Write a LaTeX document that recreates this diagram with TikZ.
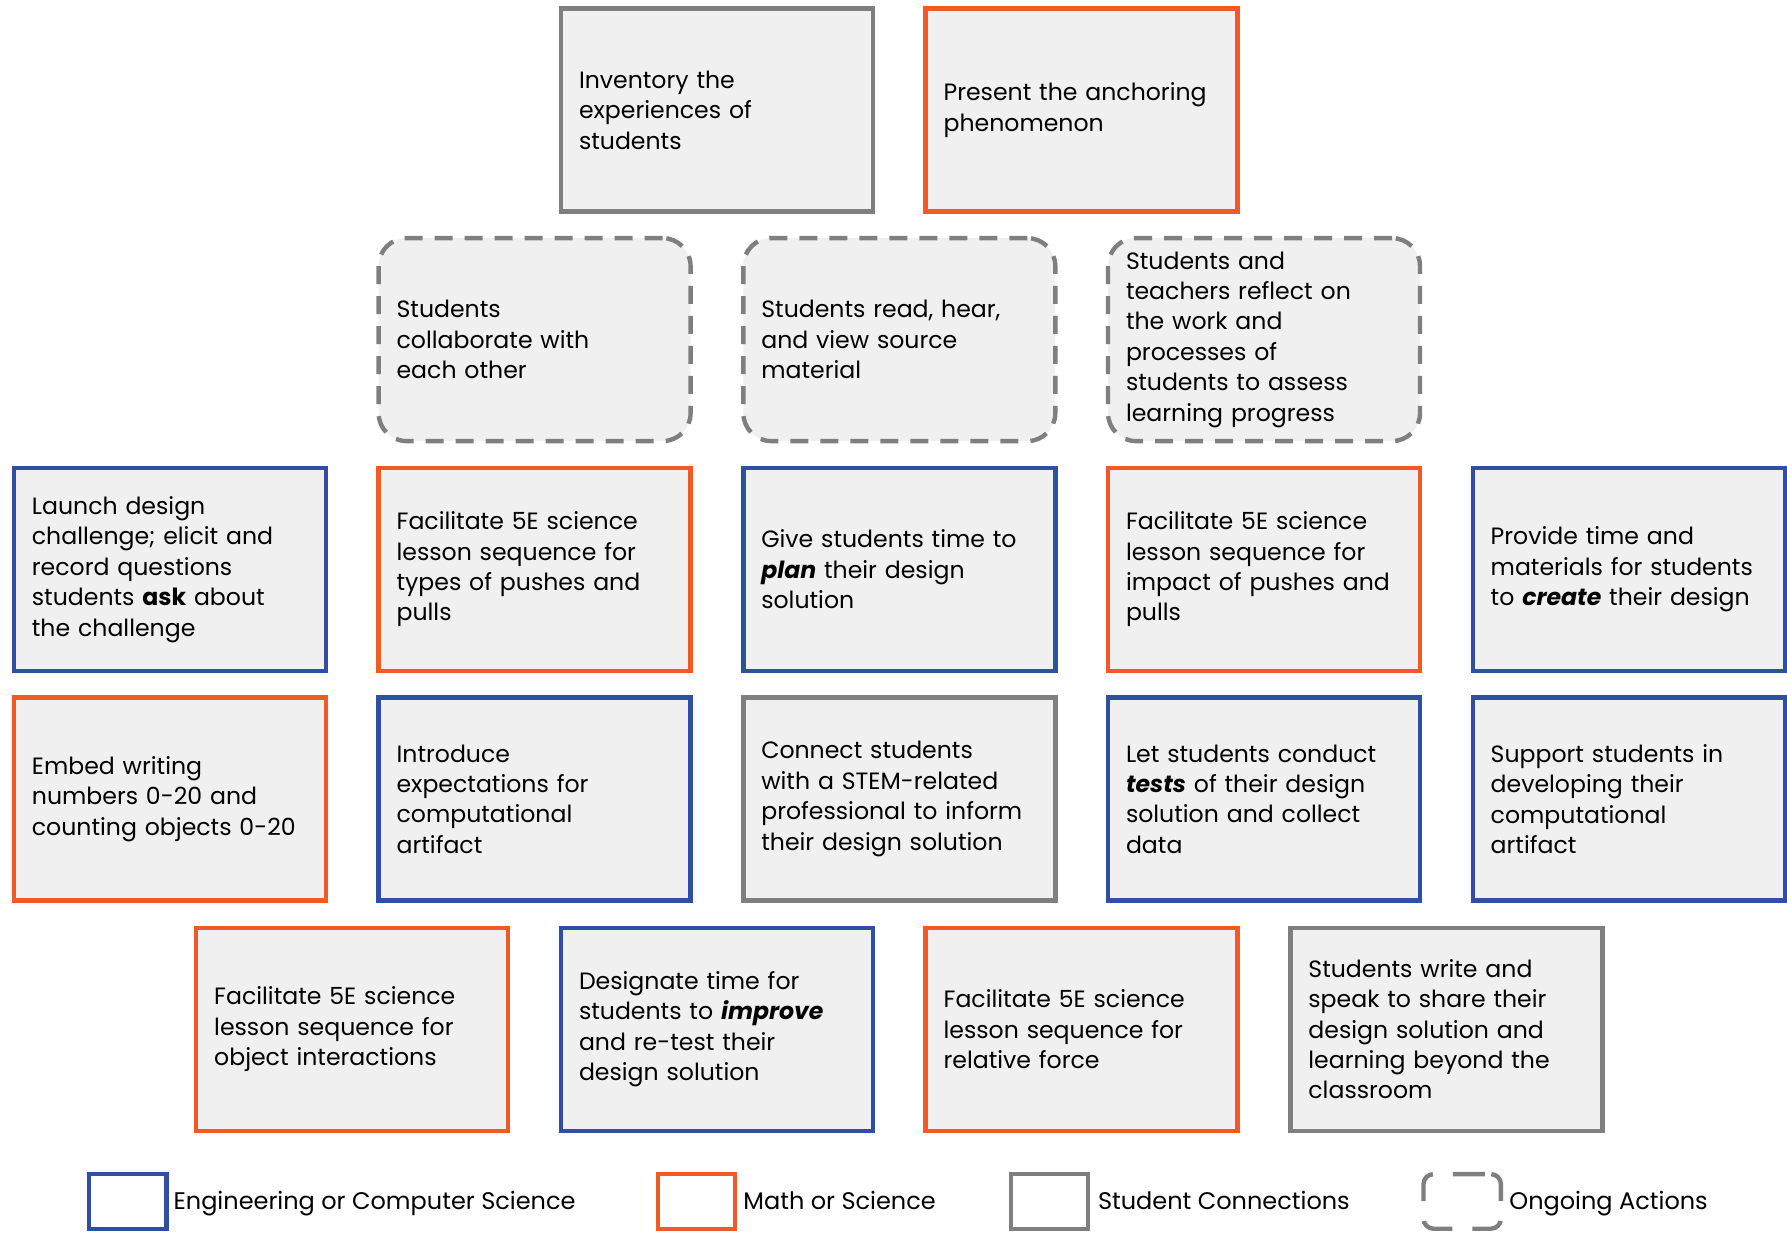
\documentclass[tikz,border=0pt]{standalone}
\usepackage{fontspec}
\setmainfont{Poppins}
\usepackage{xcolor}
\usetikzlibrary{positioning}

\definecolor{engblue}{HTML}{2F4FA2}
\definecolor{mathorange}{HTML}{F15A24}
\definecolor{linkgray}{HTML}{7F7F7F}
\definecolor{cardfill}{HTML}{F0F0F0}

\tikzset{
    card/.style={draw, fill=cardfill, line width=2.2pt, minimum width=156pt, minimum height=101.5pt,
        text width=138pt, inner xsep=9pt, inner ysep=2pt, align=left,
        font=\fontsize{11.8pt}{15.2pt}\selectfont},
    engcard/.style={card, draw=engblue},
    mathcard/.style={card, draw=mathorange},
    linkcard/.style={card, draw=linkgray},
    ongoingcard/.style={card, draw=linkgray, rounded corners=14pt, dash pattern=on 9pt off 6pt},
    keybox/.style={draw, line width=2.2pt, minimum width=38.7pt, minimum height=27.3pt, inner sep=0pt},
    keylabel/.style={anchor=base west, inner sep=0pt, font=\fontsize{12pt}{14pt}\selectfont}
}

\begin{document}
\begin{tikzpicture}[x=1pt, y=-1pt]
    \useasboundingbox (0,0) rectangle (893.5,616);

    % Starting points
    \node[linkcard] (inventory) at (358.5,55) {Inventory the\\experiences of\\students};
    \node[mathcard] (anchor) at (540.8,55) {Present the anchoring\\phenomenon};

    % Ongoing actions
    \node[ongoingcard] (collab) at (267.3,169.8) {Students\\collaborate with\\each other};
    \node[ongoingcard] (source) at (449.65,169.8) {Students read, hear,\\and view source\\material};
    \node[ongoingcard] (reflect) at (632,169.8) {Students and\\teachers reflect on\\the work and\\processes of\\students to assess\\learning progress};

    % Third row
    \node[engcard] (launch) at (84.95,284.7) {Launch design\\challenge; elicit and\\record questions\\students \textbf{ask} about\\the challenge};
    \node[mathcard] (types) at (267.3,284.7) {Facilitate 5E science\\lesson sequence for\\types of pushes and\\pulls};
    \node[engcard] (plan) at (449.65,284.7) {Give students time to\\\textbf{\textit{plan}} their design\\solution};
    \node[mathcard] (impact) at (632,284.7) {Facilitate 5E science\\lesson sequence for\\impact of pushes and\\pulls};
    \node[engcard] (create) at (814.35,284.7) {Provide time and\\materials for students\\to \textbf{\textit{create}} their design};

    % Fourth row
    \node[mathcard] (embed) at (84.95,399.5) {Embed writing\\numbers 0-20 and\\counting objects 0-20};
    \node[engcard] (expect) at (267.3,399.5) {Introduce\\expectations for\\computational\\artifact};
    \node[linkcard] (stem) at (449.65,399.5) {Connect students\\with a STEM-related\\professional to inform\\their design solution};
    \node[engcard] (tests) at (632,399.5) {Let students conduct\\\textbf{\textit{tests}} of their design\\solution and collect\\data};
    \node[engcard] (artifact) at (814.35,399.5) {Support students in\\developing their\\computational\\artifact};

    % Fifth row
    \node[mathcard] (interact) at (176.1,514.6) {Facilitate 5E science\\lesson sequence for\\object interactions};
    \node[engcard] (improve) at (358.5,514.6) {Designate time for\\students to \textbf{\textit{improve}}\\and re-test their\\design solution};
    \node[mathcard] (relative) at (540.8,514.6) {Facilitate 5E science\\lesson sequence for\\relative force};
    \node[linkcard] (share) at (723.2,514.6) {Students write and\\speak to share their\\design solution and\\learning beyond the\\classroom};

    % Legend
    \node[keybox, draw=engblue] (keyeng) at (63.85,600.7) {};
    \node[keylabel] (keyenglabel) at (86.6,604.6) {Engineering or Computer Science};
    \node[keybox, draw=mathorange] (keymath) at (348.2,600.7) {};
    \node[keylabel] (keymathlabel) at (371.5,604.6) {Math or Science};
    \node[keybox, draw=linkgray] (keylink) at (524.75,600.7) {};
    \node[keylabel] (keylinklabel) at (548.8,604.6) {Student Connections};
    \node[keybox, draw=linkgray, rounded corners=5pt, dash pattern=on 16pt off 10pt, dash phase=-3pt] (keyongoing) at (731.1,600.7) {};
    \node[keylabel] (keyongoinglabel) at (754.5,604.6) {Ongoing Actions};
\end{tikzpicture}
\end{document}
